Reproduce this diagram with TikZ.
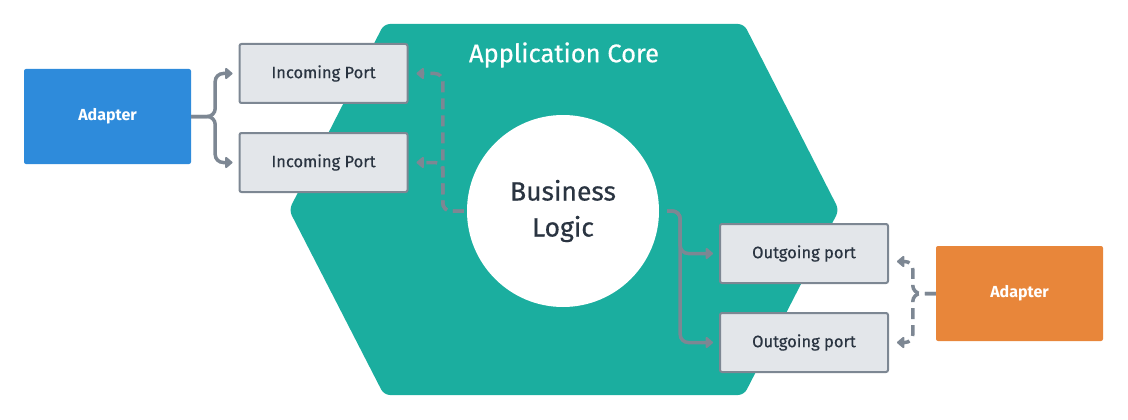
\documentclass[tikz,border=0pt]{standalone}
\usepackage{fontspec}
\setmainfont{Fira Sans}
\newfontfamily\mediumfont{Fira Sans}[FakeBold=0.5]
\usetikzlibrary{positioning, arrows.meta}
\definecolor{core}{HTML}{1BAE9F}
\definecolor{wire}{HTML}{7D8793}
\definecolor{portfill}{HTML}{E3E6EA}
\definecolor{ink}{HTML}{2A3441}
\definecolor{inblue}{HTML}{2E8BDB}
\definecolor{outorange}{HTML}{E8863A}

\tikzset{
  port/.style={draw=wire, line width=2pt, fill=portfill, rounded corners=2pt,
    minimum width=168pt, minimum height=59pt, text=ink,
    font=\mediumfont\fontsize{16.5}{19}\selectfont},
  adapter/.style={minimum width=167pt, minimum height=95pt, rounded corners=2pt,
    text=white, font=\bfseries\fontsize{16}{19}\selectfont},
  link/.style={draw=wire, line width=3.5pt, rounded corners=8pt,
    -{Triangle[round, length=8pt, width=13pt]}},
  dashlink/.style={link, dash pattern=on 11pt off 6pt},
}

\begin{document}
\begin{tikzpicture}[x=1pt, y=-1pt]
    \useasboundingbox (0,0) rectangle (1128,420);
    % application core
    \fill[core, rounded corners=6pt] (384,24) -- (744,24) -- (839,210)
        -- (744,395) -- (384,395) -- (289,210) -- cycle;
    \node[text=white, font=\mediumfont\fontsize{25.5}{30}\selectfont] (title) at (564,55) {Application Core};
    \node[circle, fill=white, minimum size=192pt, text=ink, align=center,
        font=\mediumfont\fontsize{26.5}{36}\selectfont] (logic) at (563,211) {Business\\Logic};

    % ports
    \node[port] (in1) at (323.5,73.5) {Incoming Port};
    \node[port, below=28pt of in1] (in2) {Incoming Port};
    \node[port] (out1) at (804,253.5) {Outgoing port};
    \node[port, below=28pt of out1] (out2) {Outgoing port};

    % adapters
    \node[adapter, fill=inblue] (inAdapter) at (107.5,116.5) {Adapter};
    \node[adapter, fill=outorange] (outAdapter) at (1019.5,293.5) {Adapter};

    % connectors
    \draw[link] (inAdapter.east) -- ++(24,0) |- ([xshift=-6pt]in1.west);
    \draw[link] (inAdapter.east) -- ++(24,0) |- ([xshift=-6pt]in2.west);
    \draw[dashlink] ([xshift=-3pt]logic.west) -- ++(-21,0) |- ([xshift=8pt]in1.east);
    \draw[dashlink] ([xshift=-3pt]logic.west) -- ++(-21,0) |- ([xshift=8pt]in2.east);
    \draw[link] ([xshift=8pt]logic.east) -- ++(13,0) |- ([xshift=-6pt]out1.west);
    \draw[link] ([xshift=8pt]logic.east) -- ++(13,0) |- ([xshift=-6pt]out2.west);
    \draw[dashlink] (outAdapter.west) -- ++(-23,0) |- ([xshift=8pt, yshift=-8pt]out1.east);
    \draw[dashlink] (outAdapter.west) -- ++(-23,0) |- ([xshift=8pt]out2.east);
\end{tikzpicture}
\end{document}
